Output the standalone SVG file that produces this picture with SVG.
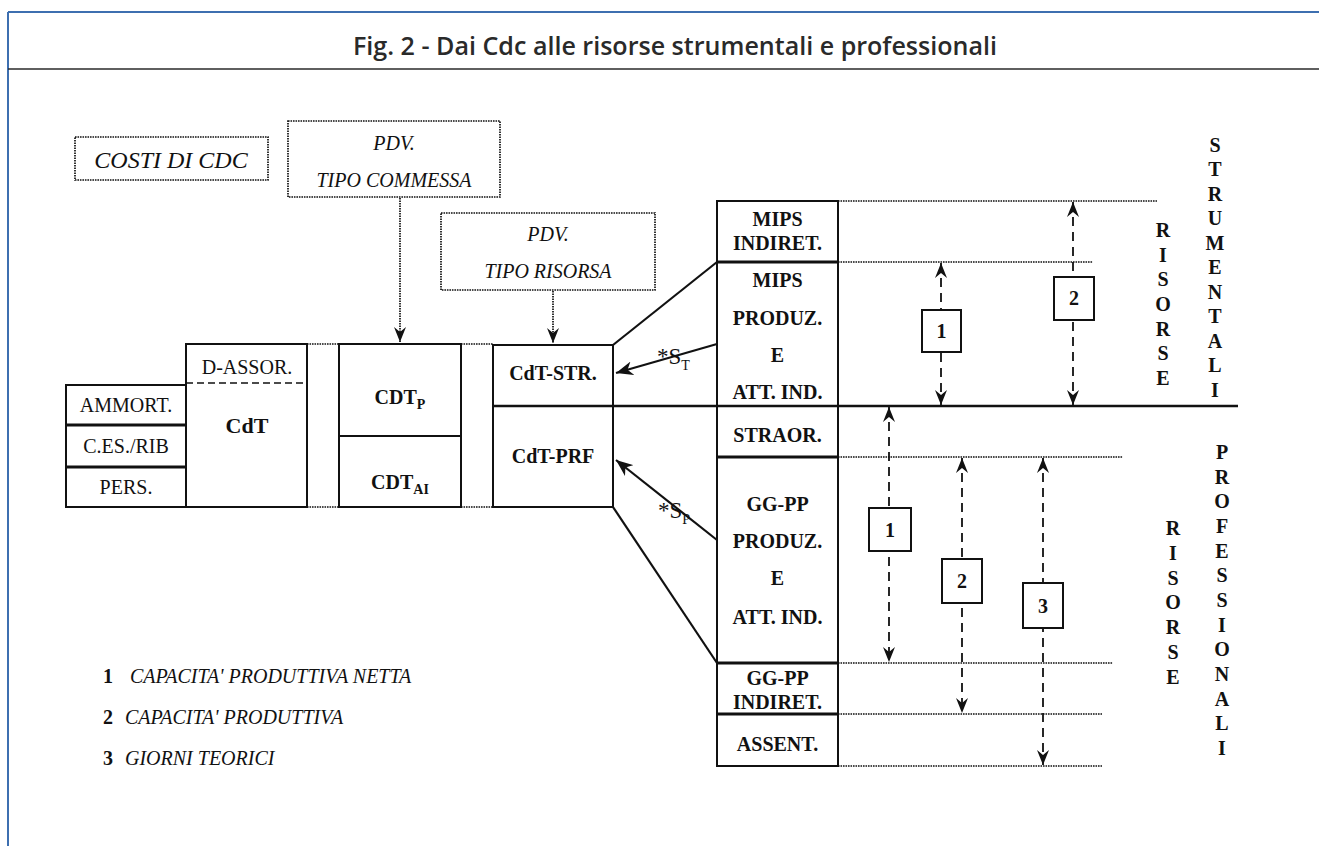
<svg xmlns="http://www.w3.org/2000/svg" width="1319" height="846" viewBox="0 0 1319 846">
<style>
.box{fill:#fff;stroke:#111;stroke-width:2}
.thick{stroke:#111;stroke-width:3;fill:none}
.dot{fill:none;stroke:#111;stroke-width:1.7;stroke-dasharray:1.6 0.9}
.dash{fill:none;stroke:#111;stroke-width:1.8;stroke-dasharray:9 6}
.solid{fill:none;stroke:#111;stroke-width:2.2}
.t{font-family:"Liberation Serif","Times New Roman",serif;fill:#111;text-anchor:middle;font-size:20px}
.b{font-weight:bold}
.i{font-style:italic}
.v{font-family:"Liberation Serif","Times New Roman",serif;fill:#111;text-anchor:middle;font-size:20px;font-weight:bold}
.nb{fill:#fff;stroke:#111;stroke-width:2}
</style>
<defs>
<marker id="ah" viewBox="0 -6 15 12" markerWidth="15" markerHeight="12" refX="15" refY="0" orient="auto-start-reverse" markerUnits="userSpaceOnUse">
<path d="M0,-6 L15,0 L0,6 L5,0 z" fill="#111"/>
</marker>
<marker id="sa" viewBox="0 -7 17 14" markerWidth="17" markerHeight="14" refX="17" refY="0" orient="auto" markerUnits="userSpaceOnUse">
<path d="M0,-7 L17,0 L0,7 L5,0 z" fill="#111"/>
</marker>
</defs>
<rect width="1319" height="846" fill="#fff"/>
<g id="frame">
<line x1="8" y1="12" x2="1319" y2="12" stroke="#3d6fb0" stroke-width="2"/>
<line x1="8" y1="12" x2="8" y2="846" stroke="#3d6fb0" stroke-width="2"/>
<line x1="8" y1="69" x2="1319" y2="69" stroke="#2a2a2a" stroke-width="1.6"/>
<text x="675" y="55" font-family="'Open Sans','DejaVu Sans Condensed',sans-serif" font-size="25" font-weight="600" fill="#2a2a2a" text-anchor="middle" textLength="644" lengthAdjust="spacingAndGlyphs">Fig. 2 - Dai Cdc alle risorse strumentali e professionali</text>
</g>

<g id="costi">
<rect x="75" y="137" width="193" height="43" class="dot"/>
<text x="171" y="168" class="t i" style="font-size:24px">COSTI DI CDC</text>
</g>
<g id="pdv-commessa">
<rect x="288" y="121" width="212" height="76" class="dot"/>
<text x="394" y="150" class="t i">PDV.</text>
<text x="394" y="187" class="t i">TIPO COMMESSA</text>
</g>
<g id="pdv-risorsa">
<rect x="441" y="213" width="214" height="77" class="dot"/>
<text x="548" y="241" class="t i">PDV.</text>
<text x="548" y="278" class="t i">TIPO RISORSA</text>
</g>

<g id="left-stack">
<rect x="66" y="385" width="120" height="122" class="box"/>
<line x1="66" y1="425" x2="186" y2="425" class="thick"/>
<line x1="66" y1="467" x2="186" y2="467" class="thick"/>
<text x="126" y="412" class="t">AMMORT.</text>
<text x="126" y="453" class="t">C.ES./RIB</text>
<text x="126" y="494" class="t">PERS.</text>
</g>
<g id="cdt">
<rect x="186" y="344" width="121" height="163" class="box"/>
<line x1="186" y1="383" x2="307" y2="383" stroke="#111" stroke-width="1.6" stroke-dasharray="7 4"/>
<text x="247" y="374" class="t">D-ASSOR.</text>
<text x="247" y="433" class="t b" style="font-size:22px">CdT</text>
</g>
<g id="gap1">
<line x1="307" y1="344" x2="339" y2="344" class="dot"/>
<line x1="307" y1="507" x2="339" y2="507" class="dot"/>
</g>
<g id="cdt-p-ai">
<rect x="339" y="344" width="122" height="163" class="box"/>
<line x1="339" y1="436" x2="461" y2="436" stroke="#111" stroke-width="2"/>
<text x="400" y="404" class="t b">CDT<tspan font-size="14" dy="5">P</tspan></text>
<text x="400" y="489" class="t b">CDT<tspan font-size="14" dy="5">AI</tspan></text>
</g>
<g id="gap2">
<line x1="461" y1="344" x2="493" y2="344" class="dot"/>
<line x1="461" y1="507" x2="493" y2="507" class="dot"/>
</g>
<g id="cdt-str">
<rect x="493" y="345" width="120" height="61" class="box"/>
<text x="553" y="380" class="t b">CdT-STR.</text>
</g>
<g id="cdt-prf">
<rect x="493" y="406" width="120" height="101" class="box"/>
<text x="553" y="463" class="t b">CdT-PRF</text>
</g>

<g id="mips-indiret">
<rect x="717" y="201" width="121" height="61" class="box"/>
<text x="777.5" y="226" class="t b">MIPS</text>
<text x="777.5" y="250" class="t b">INDIRET.</text>
</g>
<g id="mips-produz">
<rect x="717" y="262" width="121" height="144" class="box"/>
<text x="777.5" y="287" class="t b">MIPS</text>
<text x="777.5" y="325" class="t b">PRODUZ.</text>
<text x="777.5" y="362" class="t b">E</text>
<text x="777.5" y="399" class="t b">ATT. IND.</text>
</g>
<g id="straor">
<rect x="717" y="406" width="121" height="51" class="box"/>
<text x="777.5" y="442" class="t b">STRAOR.</text>
</g>
<g id="ggpp-produz">
<rect x="717" y="457" width="121" height="206" class="box"/>
<text x="777.5" y="511" class="t b">GG-PP</text>
<text x="777.5" y="548" class="t b">PRODUZ.</text>
<text x="777.5" y="585" class="t b">E</text>
<text x="777.5" y="624" class="t b">ATT. IND.</text>
</g>
<g id="ggpp-indiret">
<rect x="717" y="663" width="121" height="51" class="box"/>
<text x="777.5" y="685" class="t b">GG-PP</text>
<text x="777.5" y="709" class="t b">INDIRET.</text>
</g>
<g id="assent">
<rect x="717" y="714" width="121" height="52" class="box"/>
<text x="777.5" y="751" class="t b">ASSENT.</text>
</g>
<g id="separators">
<line x1="717" y1="262" x2="838" y2="262" class="thick"/>
<line x1="717" y1="457" x2="838" y2="457" class="thick"/>
<line x1="717" y1="663" x2="838" y2="663" class="thick"/>
<line x1="717" y1="714" x2="838" y2="714" class="thick"/>
<line x1="493" y1="406" x2="1238" y2="406" stroke="#111" stroke-width="2.6"/>
</g>

<g id="connectors">
<line x1="400" y1="198" x2="400" y2="342" class="dot" marker-end="url(#ah)"/>
<line x1="553" y1="291" x2="553" y2="343" class="dot" marker-end="url(#ah)"/>
<line x1="613" y1="345" x2="717" y2="262" class="solid"/>
<line x1="613" y1="507" x2="717" y2="663" class="solid"/>
<line x1="717" y1="344" x2="616" y2="373" class="solid" marker-end="url(#sa)"/>
<line x1="717" y1="540" x2="616" y2="460" class="solid" marker-end="url(#sa)"/>
<line x1="838" y1="201" x2="1157" y2="201" class="dot"/>
<line x1="838" y1="262" x2="1093" y2="262" class="dot"/>
<line x1="838" y1="457" x2="1123" y2="457" class="dot"/>
<line x1="838" y1="663" x2="1113" y2="663" class="dot"/>
<line x1="838" y1="714" x2="1102" y2="714" class="dot"/>
<line x1="838" y1="766" x2="1102" y2="766" class="dot"/>
<line x1="941" y1="263" x2="941" y2="405" class="dash" marker-start="url(#ah)" marker-end="url(#ah)"/>
<line x1="1073" y1="202" x2="1073" y2="405" class="dash" marker-start="url(#ah)" marker-end="url(#ah)"/>
<line x1="889" y1="407" x2="889" y2="662" class="dash" marker-start="url(#ah)" marker-end="url(#ah)"/>
<line x1="962" y1="458" x2="962" y2="713" class="dash" marker-start="url(#ah)" marker-end="url(#ah)"/>
<line x1="1043" y1="458" x2="1043" y2="765" class="dash" marker-start="url(#ah)" marker-end="url(#ah)"/>
<text x="657" y="364" class="t" style="text-anchor:start;font-size:23px">*S<tspan font-size="14" dy="6">T</tspan></text>
<text x="658" y="518" class="t" style="text-anchor:start;font-size:23px">*S<tspan font-size="14" dy="6">P</tspan></text>
</g>

<g id="n1-top">
<rect x="922" y="310" width="39" height="42" class="nb"/>
<text x="941.5" y="338" class="t b">1</text>
</g>
<g id="n2-top">
<rect x="1054" y="277" width="40" height="43" class="nb"/>
<text x="1074" y="305" class="t b">2</text>
</g>
<g id="n1-bot">
<rect x="869" y="508" width="42" height="43" class="nb"/>
<text x="890" y="537" class="t b">1</text>
</g>
<g id="n2-bot">
<rect x="942" y="559" width="40" height="44" class="nb"/>
<text x="962" y="588" class="t b">2</text>
</g>
<g id="n3-bot">
<rect x="1023" y="583" width="40" height="45" class="nb"/>
<text x="1043" y="613" class="t b">3</text>
</g>

<g id="label-risorse-str">
<text class="v"><tspan x="1163" y="237">R</tspan><tspan x="1163" y="262">I</tspan><tspan x="1163" y="286">S</tspan><tspan x="1163" y="311">O</tspan><tspan x="1163" y="336">R</tspan><tspan x="1163" y="360">S</tspan><tspan x="1163" y="385">E</tspan></text>
</g>
<g id="label-strumentali">
<text class="v"><tspan x="1215" y="152">S</tspan><tspan x="1215" y="176">T</tspan><tspan x="1215" y="201">R</tspan><tspan x="1215" y="225">U</tspan><tspan x="1215" y="250">M</tspan><tspan x="1215" y="274">E</tspan><tspan x="1215" y="299">N</tspan><tspan x="1215" y="323">T</tspan><tspan x="1215" y="348">A</tspan><tspan x="1215" y="372">L</tspan><tspan x="1215" y="397">I</tspan></text>
</g>
<g id="label-risorse-prf">
<text class="v"><tspan x="1173" y="535">R</tspan><tspan x="1173" y="560">I</tspan><tspan x="1173" y="585">S</tspan><tspan x="1173" y="609">O</tspan><tspan x="1173" y="634">R</tspan><tspan x="1173" y="659">S</tspan><tspan x="1173" y="684">E</tspan></text>
</g>
<g id="label-professionali">
<text class="v"><tspan x="1222" y="459">P</tspan><tspan x="1222" y="484">R</tspan><tspan x="1222" y="508">O</tspan><tspan x="1222" y="533">F</tspan><tspan x="1222" y="558">E</tspan><tspan x="1222" y="582">S</tspan><tspan x="1222" y="607">S</tspan><tspan x="1222" y="632">I</tspan><tspan x="1222" y="656">O</tspan><tspan x="1222" y="681">N</tspan><tspan x="1222" y="706">A</tspan><tspan x="1222" y="730">L</tspan><tspan x="1222" y="755">I</tspan></text>
</g>

<g id="legend">
<text x="103" y="683" class="t b" style="text-anchor:start">1</text>
<text x="130" y="683" class="t i" style="text-anchor:start">CAPACITA' PRODUTTIVA NETTA</text>
<text x="103" y="724" class="t b" style="text-anchor:start">2</text>
<text x="125" y="724" class="t i" style="text-anchor:start">CAPACITA' PRODUTTIVA</text>
<text x="103" y="765" class="t b" style="text-anchor:start">3</text>
<text x="125" y="765" class="t i" style="text-anchor:start">GIORNI TEORICI</text>
</g>
</svg>
